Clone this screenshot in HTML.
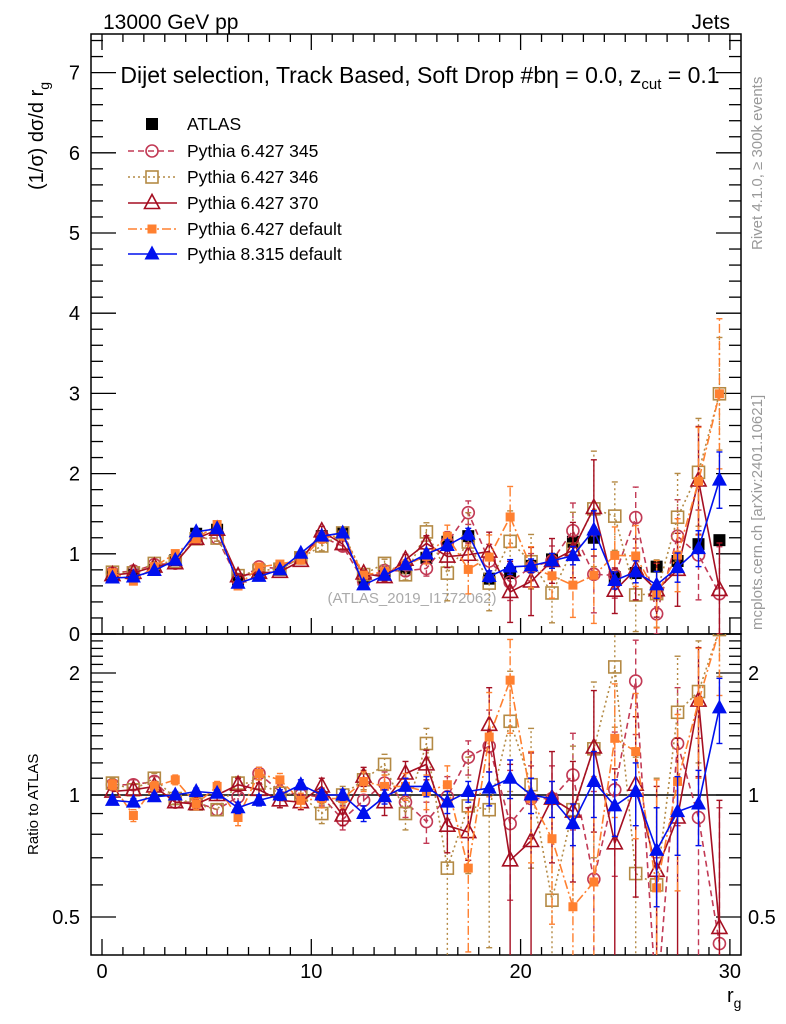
<!DOCTYPE html>
<html><head><meta charset="utf-8"><style>
html,body{margin:0;padding:0;background:#fff;overflow:hidden;width:786px;height:1024px}
svg{display:block;font-family:"Liberation Sans",sans-serif}
</style></head><body>
<svg id="c" width="786" height="1024" viewBox="0 0 786 1024">
<text x="103" y="29" font-size="21">13000 GeV pp</text>
<text x="730" y="29" font-size="21" text-anchor="end">Jets</text>
<text x="420" y="83" font-size="23" text-anchor="middle">Dijet selection, Track Based, Soft Drop #bη = 0.0, z<tspan font-size="15" dy="6">cut</tspan><tspan dy="-6"> = 0.1</tspan></text>
<text transform="translate(762,250) rotate(-90)" font-size="15" fill="#999">Rivet 4.1.0, ≥ 300k events</text>
<text transform="translate(762,630) rotate(-90)" font-size="15" fill="#999">mcplots.cern.ch [arXiv:2401.10621]</text>
<text transform="translate(43,190) rotate(-90)" font-size="20">(1/σ) dσ/d r<tspan font-size="14" dy="6">g</tspan></text>
<text transform="translate(38,855) rotate(-90)" font-size="15">Ratio to ATLAS</text>
<text x="727" y="1002" font-size="20">r<tspan font-size="14" dy="6">g</tspan></text>
<text x="412" y="603" font-size="15" fill="#aaa" text-anchor="middle">(ATLAS_2019_I1772062)</text>
<g id="g"></g>
</svg>
<script>
const bins = [0.5,1.5,2.5,3.5,4.5,5.5,6.5,7.5,8.5,9.5,10.5,11.5,12.5,13.5,14.5,15.5,16.5,17.5,18.5,19.5,20.5,21.5,22.5,23.5,24.5,25.5,26.5,27.5,28.5,29.5];
const atlasVals = [0.72,0.74,0.80,0.92,1.25,1.30,0.68,0.74,0.80,0.95,1.22,1.26,0.68,0.74,0.82,0.95,1.15,1.22,0.69,0.76,0.85,0.93,1.15,1.2,0.71,0.76,0.84,0.91,1.12,1.17];
const atlasErr = [0.02,0.02,0.02,0.02,0.03,0.03,0.02,0.02,0.02,0.03,0.03,0.03,0.03,0.03,0.03,0.03,0.04,0.04,0.04,0.04,0.04,0.05,0.05,0.05,0.05,0.05,0.05,0.06,0.06,0.06];
const r345 = [1.06,1.06,1.08,0.96,0.96,0.92,0.99,1.13,1.02,1.0,0.99,0.87,0.97,1.07,0.96,0.86,0.99,1.24,1.32,0.85,0.98,0.98,1.12,0.62,1.03,1.91,0.3,1.34,0.88,0.43];
const r346 = [1.07,1.03,1.10,0.98,0.95,0.92,1.07,1.07,1.01,1.0,0.90,1.0,1.09,1.19,0.90,1.34,0.66,0.94,0.92,1.52,1.06,0.55,0.92,1.3,2.07,0.64,0.6,1.6,1.8,2.56];
const r370 = [1.02,1.03,1.05,0.96,0.95,1.0,1.06,1.03,0.97,0.96,1.05,0.89,1.11,0.96,1.13,1.19,0.84,0.81,1.49,0.69,0.77,0.98,0.91,1.31,0.76,1.06,0.65,0.88,1.71,0.47];
const rP6def = [1.06,0.89,1.05,1.09,0.95,1.05,0.88,1.13,1.09,0.97,0.98,0.98,1.08,1.05,1.05,1.02,1.06,0.66,1.39,1.92,0.98,0.78,0.53,0.61,1.38,1.28,0.59,1.08,1.7,2.56];
const rP8 = [0.97,0.96,0.99,1.0,1.02,1.01,0.93,0.97,1.0,1.06,1.0,1.0,0.9,0.99,1.05,1.05,0.96,1.02,1.04,1.10,1.0,0.98,0.85,1.08,0.94,1.02,0.73,0.91,0.95,1.64];
const e345 = [0.03,0.03,0.03,0.03,0.03,0.03,0.04,0.04,0.04,0.04,0.05,0.05,0.06,0.07,0.08,0.1,0.12,0.12,0.3,0.3,0.2,0.2,0.3,0.4,0.4,0.5,0.4,0.5,0.5,0.5];
const e346 = [0.03,0.03,0.03,0.03,0.03,0.03,0.04,0.04,0.04,0.04,0.05,0.05,0.06,0.07,0.08,0.12,0.3,0.3,0.5,0.5,0.4,0.4,0.4,0.6,0.6,0.6,0.5,0.6,0.6,0.6];
const e370 = [0.03,0.03,0.03,0.03,0.03,0.03,0.04,0.04,0.04,0.04,0.05,0.05,0.06,0.07,0.08,0.1,0.12,0.12,0.35,0.5,0.5,0.3,0.3,0.5,0.4,0.5,0.4,0.5,0.6,0.5];
const eP6 = [0.03,0.03,0.03,0.03,0.03,0.03,0.04,0.04,0.04,0.04,0.05,0.05,0.06,0.07,0.08,0.1,0.12,0.25,0.4,0.5,0.3,0.3,0.35,0.5,0.5,0.5,0.5,0.5,0.6,0.8];
const eP8 = [0.02,0.02,0.02,0.02,0.02,0.02,0.03,0.03,0.03,0.03,0.03,0.03,0.04,0.04,0.05,0.06,0.06,0.06,0.1,0.12,0.1,0.1,0.1,0.2,0.15,0.18,0.2,0.2,0.2,0.3];
const mainTicks = [0,1,2,3,4,5,6,7];
const ratioTicks = [0.5,1,2];
const xTicks = [0,10,20,30];

const NS="http://www.w3.org/2000/svg", G=document.getElementById('g');
const L=91,R=741,T=34,MB=634,RB=955;
const X=v=>102+v*20.93;
const YM=v=>634-v*80.2;
const YR=v=>795-122*Math.log2(v);
function el(t,a,p){const e=document.createElementNS(NS,t);for(const k in a)e.setAttribute(k,a[k]);(p||G).appendChild(e);return e;}
function clipRect(id,y0,y1){const d=el('clipPath',{id:id});el('rect',{x:L,y:y0,width:R-L,height:y1-y0},d);}
clipRect('cm',T,MB);clipRect('cr',MB,RB);
let f1=el('rect',{x:L,y:T,width:R-L,height:MB-T,fill:'none',stroke:'#000','stroke-width':1.5});

let f2=el('rect',{x:L,y:MB,width:R-L,height:RB-MB,fill:'none',stroke:'#000','stroke-width':1.5});

for(let v=0;v<=30;v++){const big=v%10==0;const len=big?16:8;
 for(const [y0,dir] of [[MB,-1],[T,1],[RB,-1]]){el('line',{x1:X(v),x2:X(v),y1:y0,y2:y0+dir*len,stroke:'#000','stroke-width':1.3});}}
xTicks.forEach(v=>{const t=el('text',{x:X(v),y:978,'font-size':20,'text-anchor':'middle'});t.textContent=v;
});
for(let i=0;i<=37;i++){const v=i*0.2;const big=i%5==0;const len=big?25:12;
 el('line',{x1:L,x2:L+len,y1:YM(v),y2:YM(v),stroke:'#000','stroke-width':1.3});
 el('line',{x1:R,x2:R-len,y1:YM(v),y2:YM(v),stroke:'#000','stroke-width':1.3});}
mainTicks.forEach(v=>{const t=el('text',{x:80,y:YM(v)+7,'font-size':20,'text-anchor':'end'});t.textContent=v;
});
const rt=[0.4,0.5,0.6,0.7,0.8,0.9,1,1.1,1.2,1.3,1.4,1.5,1.6,1.7,1.8,1.9,2,2.1,2.2,2.3,2.4,2.5];
rt.forEach(v=>{const big=ratioTicks.includes(v);const len=big?25:12;if(YR(v)<MB||YR(v)>RB)return;
 el('line',{x1:L,x2:L+len,y1:YR(v),y2:YR(v),stroke:'#000','stroke-width':1.3});
 el('line',{x1:R,x2:R-len,y1:YR(v),y2:YR(v),stroke:'#000','stroke-width':1.3});});
ratioTicks.forEach(v=>{for(const [x,a] of [[80,'end'],[748,'start']]){const t=el('text',{x:x,y:YR(v)+7,'font-size':20,'text-anchor':a});t.textContent=v;
}});
el('line',{x1:L,x2:R,y1:YR(1),y2:YR(1),stroke:'#000','stroke-width':1.5});

function marker(p,x,y,m,c){
 const s=6;
 if(m=='sqf')return el('rect',{x:x-s,y:y-s,width:2*s,height:2*s,fill:c},p);
 if(m=='sqfs')return el('rect',{x:x-4.5,y:y-4.5,width:9,height:9,fill:c},p);
 if(m=='sqo')return el('rect',{x:x-6,y:y-6,width:12,height:12,fill:'none',stroke:c,'stroke-width':1.6},p);
 if(m=='ci')return el('circle',{cx:x,cy:y,r:6,fill:'none',stroke:c,'stroke-width':1.6},p);
 if(m=='tro')return el('polygon',{points:`${x},${y-8.5} ${x-7.5},${y+5.5} ${x+7.5},${y+5.5}`,fill:'none',stroke:c,'stroke-width':1.6},p);
 if(m=='trf')return el('polygon',{points:`${x},${y-8.5} ${x-7.5},${y+5.5} ${x+7.5},${y+5.5}`,fill:c},p);
}
const series=[
 {name:'pythia-6-345',lab:'Pythia 6.427 345',r:r345,e:e345,c:'#c23a55',m:'ci',d:'6,4'},
 {name:'pythia-6-346',lab:'Pythia 6.427 346',r:r346,e:e346,c:'#b48a45',m:'sqo',d:'2,3'},
 {name:'pythia-6-370',lab:'Pythia 6.427 370',r:r370,e:e370,c:'#a50f22',m:'tro',d:''},
 {name:'pythia-6-default',lab:'Pythia 6.427 default',r:rP6def,e:eP6,c:'#ff8030',m:'sqfs',d:'9,3,2,3'},
 {name:'pythia-8-default',lab:'Pythia 8.315 default',r:rP8,e:eP8,c:'#0010ee',m:'trf',d:''}
];
const ga=el('g',{'clip-path':'url(#cm)'});

series.forEach(s=>{
 for(const panel of ['main','ratio']){
  const g=el('g',{'clip-path':panel=='main'?'url(#cm)':'url(#cr)'});
  
  
  const Y=panel=='main'?(i=>YM(atlasVals[i]*s.r[i])):(i=>YR(s.r[i]));
  const Ylo=panel=='main'?(i=>YM(atlasVals[i]*Math.max(s.r[i]-s.e[i],0))):(i=>YR(Math.max(s.r[i]-s.e[i],0.2)));
  const Yhi=panel=='main'?(i=>YM(atlasVals[i]*(s.r[i]+s.e[i]))):(i=>YR(s.r[i]+s.e[i]));
  const pts=bins.map((b,i)=>X(b)+','+Y(i)).join(' ');
  el('polyline',{points:pts,fill:'none',stroke:s.c,'stroke-width':1.6,'stroke-dasharray':s.d},g);
  bins.forEach((b,i)=>{
   el('line',{x1:X(b),x2:X(b),y1:Ylo(i),y2:Yhi(i),stroke:s.c,'stroke-width':1.4,'stroke-dasharray':s.d},g);
   el('line',{x1:X(b)-3,x2:X(b)+3,y1:Ylo(i),y2:Ylo(i),stroke:s.c,'stroke-width':1.4},g);
   el('line',{x1:X(b)-3,x2:X(b)+3,y1:Yhi(i),y2:Yhi(i),stroke:s.c,'stroke-width':1.4},g);
   const mk=marker(g,X(b),Y(i),s.m,s.c);
   
   
  });
 }
});
bins.forEach((b,i)=>{
 el('line',{x1:X(b),x2:X(b),y1:YM(atlasVals[i]-atlasErr[i]),y2:YM(atlasVals[i]+atlasErr[i]),stroke:'#000','stroke-width':1.4},ga);
 const mk=marker(ga,X(b),YM(atlasVals[i]),'sqf','#000');
 
 
});
const lg=el('g',{});

const ly=[124,151,177,203,229,254];
let le=el('g',{},lg);
marker(le,152,ly[0],'sqf','#000');
let t0=el('text',{x:187,y:ly[0]+6,'font-size':17.5},le);t0.textContent='ATLAS';
series.forEach((s,k)=>{const y=ly[k+1];
 const g=el('g',{},lg);
 el('line',{x1:128,x2:177,y1:y,y2:y,stroke:s.c,'stroke-width':1.4,'stroke-dasharray':s.d},g);
 marker(g,152,y,s.m,s.c);
 const t=el('text',{x:187,y:y+6,'font-size':17.5},g);t.textContent=s.lab;});
</script>
</body></html>
